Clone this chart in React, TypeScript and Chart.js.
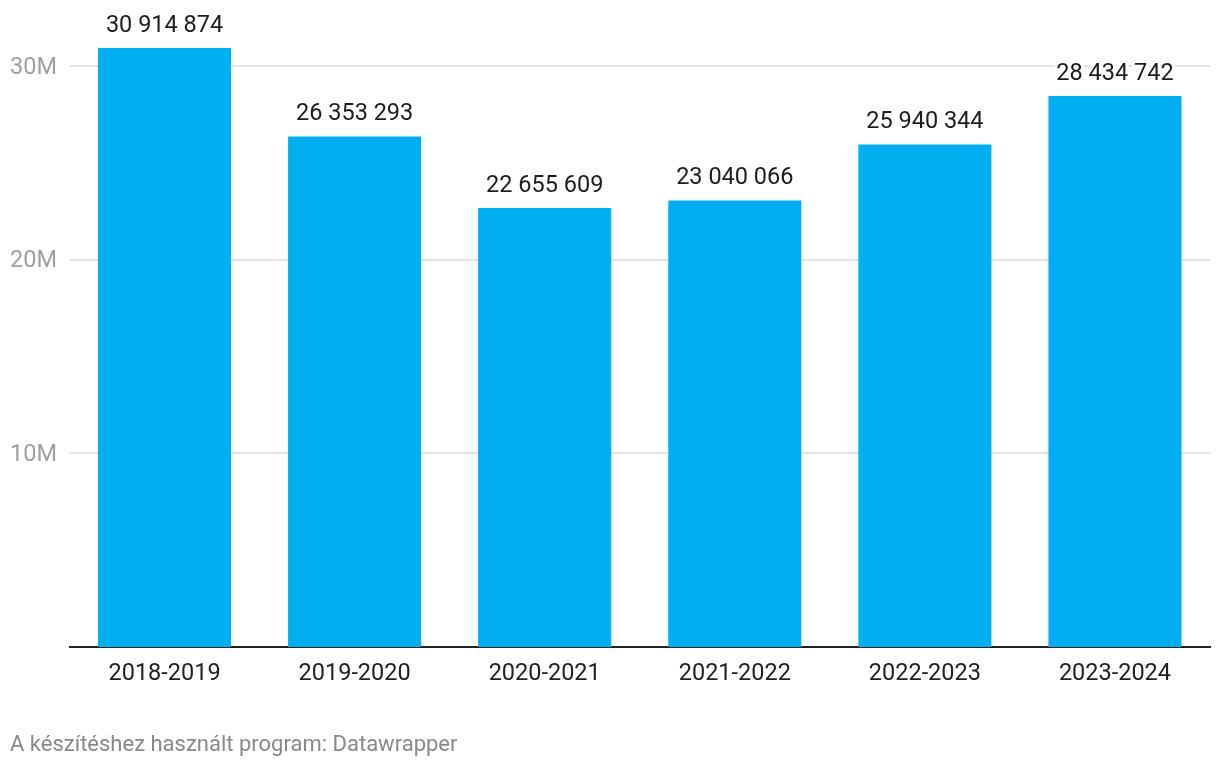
import React, { useEffect, useRef } from "react";
import { Chart, registerables } from "chart.js";

Chart.register(...registerables);

const categories = ["2018-2019", "2019-2020", "2020-2021", "2021-2022", "2022-2023", "2023-2024"];
const values = [30914874, 26353293, 22655609, 23040066, 25940344, 28434742];
const yTicks = [10000000, 20000000, 30000000];
const yTickLabels = ["10M", "20M", "30M"];
const footerText = "A készítéshez használt program: Datawrapper";

const FONT = "Roboto, 'Noto Sans', sans-serif";

function fmt(v: number): string {
  return String(v).replace(/\B(?=(\d{3})+(?!\d))/g, " ");
}

const valueLabelPlugin = {
  id: "valueLabels",
  afterDatasetsDraw(chart: any) {
    const ctx = chart.ctx;
    const meta = chart.getDatasetMeta(0);
    ctx.save();
    ctx.font = `23.5px ${FONT}`;
    ctx.textAlign = "center";
    ctx.textBaseline = "middle";
    ctx.lineJoin = "round";
    meta.data.forEach((bar: any, i: number) => {
      const text = fmt(values[i]);
      const x = bar.x;
      const y = bar.y - 22;
      ctx.strokeStyle = "#ffffff";
      ctx.lineWidth = 6;
      ctx.strokeText(text, x, y);
      ctx.fillStyle = "#1d1d1d";
      ctx.fillText(text, x, y);
    });
    ctx.restore();
  },
};

export default function App() {
  const ref = useRef<HTMLCanvasElement | null>(null);

  useEffect(() => {
    if (!ref.current) return;
    const chart = new Chart(ref.current, {
      type: "bar",
      data: {
        labels: categories,
        datasets: [
          {
            data: values,
            backgroundColor: "#01AEF0",
            categoryPercentage: 0.7,
            barPercentage: 1,
          },
        ],
      },
      options: {
        animation: false,
        responsive: false,
        layout: { padding: { left: 10, top: 27, right: 10, bottom: 0 } },
        plugins: {
          legend: { display: false },
          tooltip: { enabled: false },
        },
        scales: {
          x: {
            grid: { display: false, drawTicks: false },
            border: { display: true, color: "#222222", width: 2 },
            ticks: {
              color: "#222222",
              font: { family: FONT, size: 23.5 },
              padding: 13,
              maxRotation: 0,
            },
            afterFit: (axis: any) => {
              axis.height = 121;
            },
          },
          y: {
            min: 0,
            max: 32000000,
            grid: { color: "#e4e4e4", lineWidth: 2, drawTicks: false },
            border: { display: false },
            afterBuildTicks: (axis: any) => {
              axis.ticks = yTicks.map((v) => ({ value: v }));
            },
            ticks: {
              crossAlign: "far",
              color: "#a0a0a0",
              font: { family: FONT, size: 23.5 },
              padding: 0,
              labelOffset: 2,
              callback: (v: any) => {
                const idx = yTicks.indexOf(Number(v));
                return idx >= 0 ? yTickLabels[idx] : "";
              },
            },
            afterFit: (axis: any) => {
              axis.width = 59.5;
            },
          },
        },
      },
      plugins: [valueLabelPlugin],
    });
    return () => chart.destroy();
  }, []);

  return (
    <div style={{ position: "absolute", left: 0, top: 0, width: 1220, height: 768, background: "#fff" }}>
      <canvas ref={ref} width={1220} height={768} style={{ display: "block" }} />
      <div
        style={{
          position: "absolute",
          left: 10,
          top: 731,
          fontFamily: FONT,
          fontSize: 22,
          color: "#8a8a8a",
          lineHeight: "26px",
          whiteSpace: "nowrap",
        }}
      >
        {footerText}
      </div>
    </div>
  );
}
